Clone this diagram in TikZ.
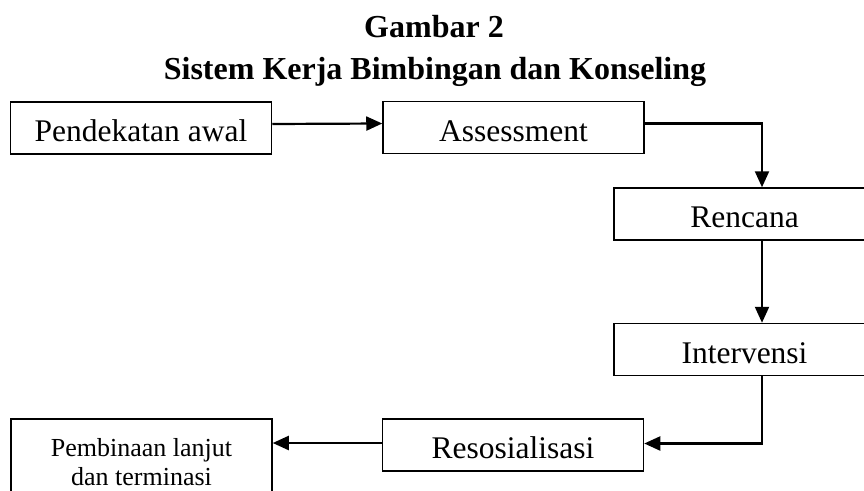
\documentclass[tikz,border=0pt]{standalone}
\usepackage{fontspec}
\setmainfont{Liberation Serif}
\usetikzlibrary{arrows.meta,calc}
\tikzset{
  stepbox/.style={draw, line width=1.5pt, minimum width=261pt, minimum height=52pt,
    inner sep=0pt, text height=27pt, text depth=0pt,
    font=\fontsize{31.5}{36}\selectfont},
  arr/.style={line width=2.2pt, -{Triangle[length=16pt,width=14pt]}},
  titletext/.style={anchor=base, inner sep=0pt, font=\bfseries\fontsize{32}{38}\selectfont}
}
\begin{document}
\begin{tikzpicture}[x=1pt,y=-1pt]
\useasboundingbox (0,0) rectangle (864,490);
\fill[white] (0,0) rectangle (864,490);
\node[titletext] (t1) at (434,37) {Gambar 2};
\node[titletext] (t2) at (435,79) {Sistem Kerja Bimbingan dan Konseling};

\node[stepbox] (pend) at (141,128) {Pendekatan awal};
\node[stepbox] (assess) at (513.5,127.5) {Assessment};
\node[stepbox] (renc) at (744.5,214) {Rencana\hspace{25pt}};
\node[stepbox] (interv) at (744.5,349.5) {Intervensi};
\node[stepbox] (reso) at (513,445) {Resosialisasi};
\node[draw, line width=1.5pt, minimum width=261pt, anchor=north, inner xsep=0pt,
  inner ysep=20pt, align=center, font=\fontsize{26}{29}\selectfont]
  (pemb) at (141.5,418) {Pembinaan lanjut\\dan terminasi};

\draw[arr] ([yshift=4pt]pend.east) -- ([yshift=4pt]assess.west);
\draw[arr] ([yshift=4pt]assess.east) -| ([xshift=17.5pt]renc.north);
\draw[arr] ([xshift=17.5pt]renc.south) -- ([xshift=17.5pt]interv.north);
\coordinate (r4) at ([yshift=1.5pt]reso.east);
\draw[arr] ([xshift=17.5pt]interv.south) |- (r4);
\coordinate (r5) at ([yshift=2pt]reso.west);
\draw[arr] (r5) -- (r5 -| pemb.east);
\end{tikzpicture}
\end{document}
